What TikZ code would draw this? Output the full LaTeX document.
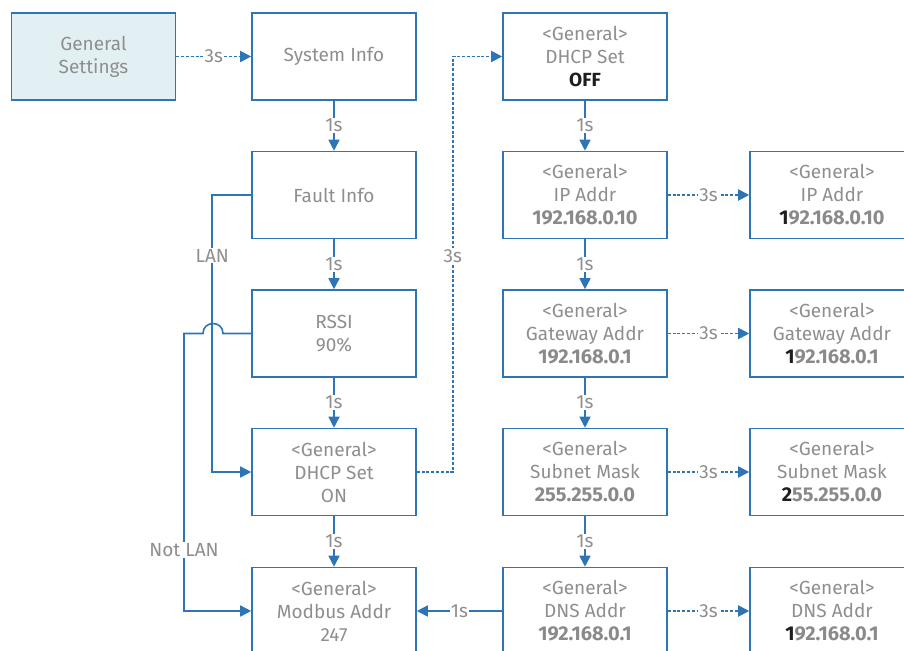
\documentclass[tikz,border=0pt]{standalone}
\usepackage{fontspec}
\setmainfont{Fira Sans}
\usetikzlibrary{arrows.meta,positioning}

\definecolor{lineblue}{HTML}{2E75B6}
\definecolor{txtgray}{HTML}{8E8E8E}
\definecolor{numgray}{HTML}{8A8A8A}
\definecolor{hilite}{HTML}{1E1E1E}
\definecolor{menufill}{HTML}{E3F0F3}

\newcommand{\gen}{<General>}
\newcommand{\addr}[2]{{\fontsize{20}{23}\selectfont\bfseries\color{numgray}{\color{hilite}#1}#2}}
\newcommand{\plain}[1]{{\fontsize{20}{23}\selectfont\bfseries\color{numgray}#1}}

\begin{document}
\begin{tikzpicture}[x=1pt, y=-1pt,
  box/.style={draw=lineblue, line width=1.6pt, minimum width=164pt, minimum height=87pt,
    inner sep=0pt, align=center, text=txtgray, font=\fontsize{19}{23}\selectfont},
  lbl/.style={fill=white, text=txtgray, inner sep=1pt, font=\fontsize{19}{23}\selectfont},
  link/.style={draw=lineblue, line width=1.6pt, -{Triangle[length=11pt,width=11pt]}},
  wait/.style={link, line width=1.9pt, dash pattern=on 3pt off 1.8pt},
  wire/.style={draw=lineblue, line width=1.6pt}]
\clip (0,0) rectangle (904,650);

% left part
\node[box, fill=menufill] (menu) at (93.5,56.5) {General\\Settings};
\node[box] (sys) at (334,56.5) {System Info};
\node[box] (fault) at (334,195) {Fault Info};
\node[box] (rssi) at (334,333.5) {RSSI\\90\%};
\node[box] (dhcpon) at (334,472) {\gen\\DHCP Set\\ON};
\node[box] (modbus) at (334,611) {\gen\\Modbus Addr\\247};

% DHCP column
\node[box] (dhcpoff) at (585,56.5) {\gen\\DHCP Set\\{\color{hilite}\bfseries OFF}};
\node[box] (ip) at (585,195) {\gen\\IP Addr\\\plain{192.168.0.10}};
\node[box] (gw) at (585,333.5) {\gen\\Gateway Addr\\\plain{192.168.0.1}};
\node[box] (mask) at (585,472) {\gen\\Subnet Mask\\\plain{255.255.0.0}};
\node[box] (dns) at (585,611) {\gen\\DNS Addr\\\plain{192.168.0.1}};

% edit column
\node[box] (ipedit) at (832,195) {\gen\\IP Addr\\\addr{1}{92.168.0.10}};
\node[box] (gwedit) at (832,333.5) {\gen\\Gateway Addr\\\addr{1}{92.168.0.1}};
\node[box] (maskedit) at (832,472) {\gen\\Subnet Mask\\\addr{2}{55.255.0.0}};
\node[box] (dnsedit) at (832,611) {\gen\\DNS Addr\\\addr{1}{92.168.0.1}};

\draw[wait] (menu) -- node[lbl] (t0) {3s} (sys);
\draw[link] (sys) -- node[lbl] (t1) {1s} (fault);
\draw[link] (fault) -- node[lbl] (t2) {1s} (rssi);
\draw[link] (rssi) -- node[lbl] (t3) {1s} (dhcpon);
\draw[link] (dhcpon) -- node[lbl] (t4) {1s} (modbus);

\draw[link] (fault.west) -- ++(-39,0) |- node[lbl, pos=0.11] (lan) {LAN} (dhcpon.west);
\draw[link] (rssi.west) -- (223,333.5) .. controls (223,320.2) and (203,320.2) .. (203,333.5)
  -- (184,333.5) |- node[lbl, pos=0.39] (notlan) {Not LAN} (modbus.west);
\draw[wait] (dhcpon.east) -- ++(36,0) |- node[lbl, pos=0.26] (t5) {3s} (dhcpoff.west);

\draw[link] (dhcpoff) -- node[lbl] (t6) {1s} (ip);
\draw[link] (ip) -- node[lbl] (t7) {1s} (gw);
\draw[link] (gw) -- node[lbl] (t8) {1s} (mask);
\draw[link] (mask) -- node[lbl] (t9) {1s} (dns);
\draw[link] (dns) -- node[lbl] (t10) {1s} (modbus);

\draw[wait] (ip) -- node[lbl] (t11) {3s} (ipedit);
\draw[wait] (gw) -- node[lbl] (t12) {3s} (gwedit);
\draw[wait] (mask) -- node[lbl] (t13) {3s} (maskedit);
\draw[wait] (dns) -- node[lbl] (t14) {3s} (dnsedit);
\end{tikzpicture}
\end{document}
